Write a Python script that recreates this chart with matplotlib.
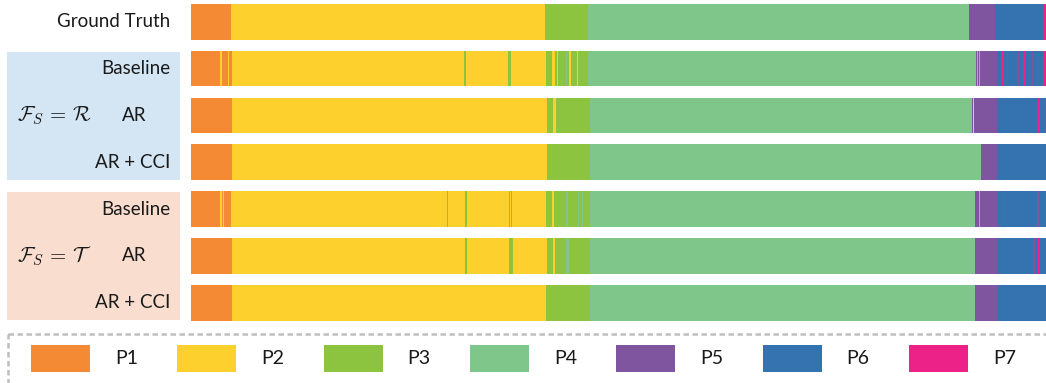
import matplotlib
matplotlib.use("Agg")
import matplotlib.pyplot as plt
from matplotlib.patches import Rectangle
import numpy as np

plt.rcParams['font.family'] = ['Lato', 'DejaVu Sans']
plt.rcParams['mathtext.fontset'] = 'cm'

# классы P1..P7 и их цвета
classes = ['P1', 'P2', 'P3', 'P4', 'P5', 'P6', 'P7']
colors = ['#F58A34', '#FDD02D', '#8CC43F', '#7EC68A', '#7F55A0', '#3572B0', '#EC2289']
n_frames = 855

# начало каждого сегмента (кадр) и его класс
gt_lab = [1, 2, 3, 4, 5, 6, 7]
gt_start = [0, 40, 354, 397, 778, 804, 852]

base_r_lab = [1, 2, 1, 2, 1, 2, 3, 2, 3, 2, 3, 2, 3, 2, 3, 4, 3, 2, 3, 2, 3, 4,
              5, 4, 5, 4, 5, 6, 7, 6, 5, 6, 5, 6, 7, 6, 5, 6, 5, 6, 7]
base_r_start = [0, 29, 31, 37, 38, 41, 273, 275, 317, 320, 355, 361, 364, 366, 367, 375, 376, 378, 380, 386, 387, 397,
                785, 786, 787, 788, 789, 806, 811, 813, 816, 817, 827, 828, 832, 834, 841, 842, 846, 847, 852]

ar_r_lab = [1, 2, 3, 2, 3, 4, 5, 2, 5, 6, 7, 6, 5]
ar_r_start = [0, 41, 356, 362, 365, 399, 781, 782, 783, 806, 847, 849, 854]

cci_r_lab = [1, 2, 3, 4, 5, 6]
cci_r_start = [0, 41, 356, 399, 790, 806]

base_t_lab = [1, 2, 1, 2, 1, 2, 3, 2, 3, 2, 3, 2, 3, 2, 3, 2, 3, 4, 3, 4, 3, 4, 3, 4,
              5, 4, 5, 6, 5, 6, 5, 6, 5, 6]
base_t_start = [0, 29, 31, 32, 33, 40, 256, 257, 274, 276, 318, 319, 320, 321, 355, 361, 363, 375, 377, 387, 388, 391, 392, 399,
                784, 788, 789, 807, 812, 813, 846, 848, 852, 853]

ar_t_lab = [1, 2, 3, 2, 3, 2, 3, 2, 3, 4, 3, 4, 5, 6, 5, 6, 7, 6]
ar_t_start = [0, 41, 274, 276, 318, 322, 356, 362, 364, 375, 378, 399, 784, 807, 842, 844, 847, 849]

cci_t_lab = [1, 2, 3, 4, 5, 6]
cci_t_start = [0, 41, 355, 399, 784, 807]

rows = [(gt_lab, gt_start), (base_r_lab, base_r_start), (ar_r_lab, ar_r_start), (cci_r_lab, cci_r_start),
        (base_t_lab, base_t_start), (ar_t_lab, ar_t_start), (cci_t_lab, cci_t_start)]
row_names = ['Ground Truth', 'Baseline', 'AR', 'AR + CCI', 'Baseline', 'AR', 'AR + CCI']

W, H = 1046, 383
fig = plt.figure(figsize=(W / 100, H / 100), dpi=100)

# фон с подписями и рамкой легенды, в пикселях
ax_bg = fig.add_axes([0, 0, 1, 1])
ax_bg.set_xlim(0, W)
ax_bg.set_ylim(H, 0)
ax_bg.axis('off')

ax_bg.add_patch(Rectangle((7, 52), 173, 128, facecolor='#D4E6F3', edgecolor='none'))
ax_bg.add_patch(Rectangle((7, 192), 173, 128, facecolor='#F9DED0', edgecolor='none'))

# полосы сегментации
top, bottom = 4, 320.5
bh = 0.76
ax = fig.add_axes([191 / W, 1 - bottom / H, (W - 191) / W, (bottom - top) / H])
ax.set_xlim(0, n_frames)
ax.set_ylim(len(rows) - 1 + bh / 2, -bh / 2)
ax.axis('off')
for i, (lab, start) in enumerate(rows):
    ends = start[1:] + [n_frames]
    segs = [(s, e - s) for s, e in zip(start, ends)]
    ax.broken_barh(segs, (i - bh / 2, bh), facecolors=[colors[c - 1] for c in lab],
                   edgecolor='none', linewidth=0)

# подписи строк
fs = 13.5
tc = '#1a1a1a'
yc = [top + (i + bh / 2) * (bottom - top) / (len(rows) - 1 + bh) for i in range(len(rows))]
for i, name in enumerate(row_names):
    if name == 'AR':
        ax_bg.text(134, yc[i], name, ha='center', va='center', fontsize=fs, color=tc)
    else:
        ax_bg.text(170, yc[i], name, ha='right', va='center', fontsize=fs, color=tc)
ax_bg.text(17, yc[2], r'$\mathcal{F}_S \,=\, \mathcal{R}$', ha='left', va='center', fontsize=15, color=tc)
ax_bg.text(17, yc[5], r'$\mathcal{F}_S \,=\, \mathcal{T}$', ha='left', va='center', fontsize=15, color=tc)

# легенда
ax_bg.add_patch(Rectangle((7.5, 333.5), 1050, 60, facecolor='none', edgecolor='#BFBFBF',
                          linewidth=1.8, linestyle=(0, (2.2, 1.4)), clip_on=True))
for i, (name, c) in enumerate(zip(classes, colors)):
    x0 = 31 + i * 146.3
    ax_bg.add_patch(Rectangle((x0, 345), 59, 27, facecolor=c, edgecolor='none'))
    ax_bg.text(x0 + 84, 358.5, name, ha='left', va='center', fontsize=14, color=tc)

fig.savefig('out.png', dpi=100)
